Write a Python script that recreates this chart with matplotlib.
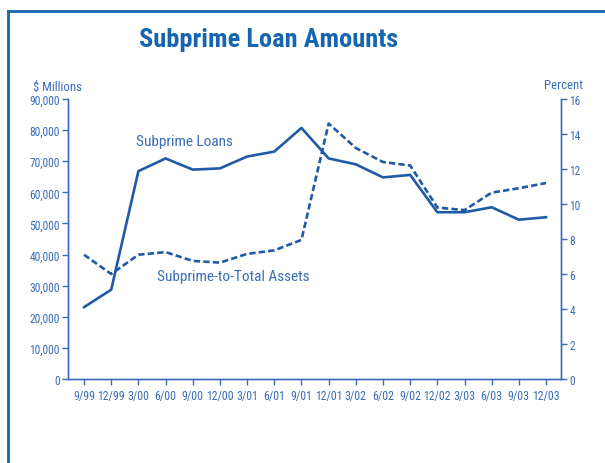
import matplotlib.pyplot as plt
from matplotlib.lines import Line2D

# quarterly subprime loan totals ($ millions) and share of total assets (%)
quarters = ["9/99", "12/99", "3/00", "6/00", "9/00", "12/00", "3/01", "6/01", "9/01",
            "12/01", "3/02", "6/02", "9/02", "12/02", "3/03", "6/03", "9/03", "12/03"]
loans = [23100, 28700, 66800, 70900, 67300, 67700, 71500, 73100, 80700,
         70900, 69000, 64800, 65600, 53600, 53600, 55200, 51200, 52000]
pct_assets = [7.1, 6.0, 7.1, 7.25, 6.75, 6.65, 7.15, 7.35, 7.95,
              14.6, 13.2, 12.4, 12.2, 9.8, 9.65, 10.65, 10.9, 11.2]

blue = "#1f5aa6"
tick_blue = "#3a6db5"
title_blue = "#1565b0"

plt.rcParams['font.family'] = ["Roboto Condensed", "DejaVu Sans"]

fig = plt.figure(figsize=(6.05, 4.64), dpi=100)
W, H = 605, 464

ax = fig.add_axes([68 / W, 1 - 380 / H, (561 - 68) / W, 280 / H])
ax2 = ax.twinx()

x = list(range(len(quarters)))
ax.plot(x, loans, color=blue, lw=1.9)
ax2.plot(x, pct_assets, color=blue, lw=1.9, ls=(0, (2.4, 1.2)))

ax.set_xlim(-0.59, 17.55)
ax.set_ylim(0, 90000)
ax2.set_ylim(0, 16)

ax.set_yticks(range(0, 90001, 10000))
ax.set_yticklabels([f"{v:,}" for v in range(0, 90001, 10000)])
ax2.set_yticks(range(0, 17, 2))
ax.set_xticks(x)
ax.set_xticklabels(quarters)

for a in (ax, ax2):
    a.spines["top"].set_visible(False)
    for side in ("left", "right", "bottom"):
        a.spines[side].set_color(tick_blue)
        a.spines[side].set_linewidth(1.0)
    a.tick_params(colors=tick_blue, labelcolor=tick_blue, labelsize=8.3,
                  length=4.5, width=1.0, pad=1.5)
ax.tick_params(axis='x', labelsize=8.6, pad=2.5)

ax.text(-0.071, 1.022, "$ Millions", transform=ax.transAxes, ha='left', va='bottom',
        color=tick_blue, fontsize=9.2)
ax.text(1.045, 1.03, "Percent", transform=ax.transAxes, ha='right', va='bottom',
        color=tick_blue, fontsize=9.2)

ax.text(3.68, 76500, "Subprime Loans", color=tick_blue, fontsize=11,
        ha='center', va='center')
ax2.text(5.5, 5.9, "Subprime-to-Total Assets", color=tick_blue, fontsize=11,
         ha='center', va='center')

fig.text(269 / W, 1 - 40 / H, "Subprime Loan Amounts", color=title_blue,
         fontsize=19, fontweight='bold', ha='center', va='center')

# page frame: top and left rules
fig.add_artist(Line2D([8 / W, 1.0], [1 - 12 / H, 1 - 12 / H], color=title_blue, lw=2.0))
fig.add_artist(Line2D([8 / W, 8 / W], [0, 1 - 12 / H], color=title_blue, lw=2.0))

# caption above the frame, mostly cut off
fig.text(12 / W, 1 + 8 / H, "Figure", color="black", fontsize=10, ha='left', va='bottom')

fig.savefig("out.png", dpi=100)
